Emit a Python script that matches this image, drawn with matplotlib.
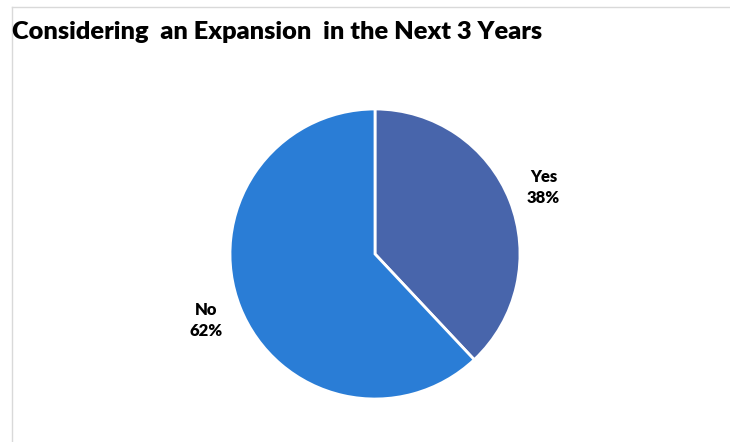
import matplotlib.pyplot as plt

# Datos
categorias = ["Yes", "No"]
valores = [38, 62]
colores = ["#4865AB", "#2A7DD6"]

W, H = 730, 442
fig = plt.figure(figsize=(W / 100, H / 100), dpi=100)

# Borde gris claro del área del gráfico
fig.add_artist(plt.Line2D([12 / W, 12 / W], [0, 1 - 7 / H], color="#D9D9D9", lw=1))
fig.add_artist(plt.Line2D([12 / W, 1], [1 - 7 / H, 1 - 7 / H], color="#D9D9D9", lw=1))

# Título
fig.text(12 / W, 1 - 32 / H, "Considering  an Expansion  in the Next 3 Years",
         fontsize=18.3, fontweight="heavy", family="Lato", va="center", ha="left")

# Pastel
cx, cy, r = 375, 254, 145
ax = fig.add_axes([(cx - r) / W, (H - cy - r) / H, 2 * r / W, 2 * r / H])
etiquetas = [f"{c}\n{v}%" for c, v in zip(categorias, valores)]
wedges, textos = ax.pie(valores, labels=etiquetas, colors=colores, startangle=90,
                        counterclock=False, labeldistance=1.25,
                        wedgeprops=dict(edgecolor="white", linewidth=2),
                        textprops=dict(fontsize=12, fontweight="heavy", family="Lato",
                                       ha="center", va="center", linespacing=1.35))
ax.set_xlim(-1, 1)
ax.set_ylim(-1, 1)
ax.set_aspect("equal")

fig.savefig("out.png", dpi=100)
